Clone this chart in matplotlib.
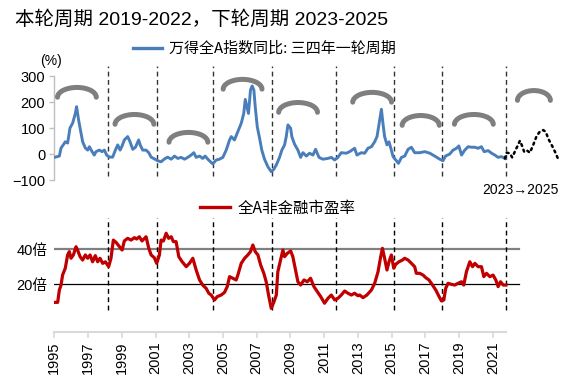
import matplotlib
matplotlib.use("Agg")
import matplotlib.pyplot as plt
from matplotlib.patches import Arc
from matplotlib.lines import Line2D
import numpy as np

plt.rcParams['font.family'] = ['Liberation Sans', 'Noto Sans CJK SC', 'DejaVu Sans']

# ---------------- data ----------------
yoy_years = [1995.06, 1995.30, 1995.40, 1995.53, 1995.65, 1995.79, 1995.93, 1996.09, 1996.25, 1996.32,
             1996.44, 1996.58, 1996.68, 1996.84, 1996.98, 1997.08, 1997.24, 1997.37, 1997.47, 1997.67,
             1997.83, 1997.97, 1998.10, 1998.26, 1998.46, 1998.62, 1998.76, 1998.90, 1999.02, 1999.15,
             1999.35, 1999.49, 1999.65, 1999.81, 2000.00, 2000.09, 2000.24, 2000.44, 2000.60, 2000.74,
             2000.93, 2001.13, 2001.33, 2001.53, 2001.72, 2001.93, 2002.12, 2002.32, 2002.52, 2002.72,
             2002.91, 2003.11, 2003.27, 2003.41, 2003.61, 2003.80, 2003.94, 2004.10, 2004.26, 2004.39,
             2004.60, 2004.79, 2004.99, 2005.19, 2005.39, 2005.49, 2005.68, 2005.88, 2006.08, 2006.23,
             2006.32, 2006.44, 2006.51, 2006.63, 2006.73, 2006.83, 2006.91, 2007.03, 2007.17, 2007.30,
             2007.46, 2007.66, 2007.86, 2008.01, 2008.16, 2008.35, 2008.49, 2008.65, 2008.75, 2008.85,
             2009.01, 2009.08, 2009.24, 2009.44, 2009.60, 2009.74, 2009.94, 2010.13, 2010.33, 2010.49,
             2010.69, 2010.92, 2011.22, 2011.42, 2011.62, 2011.81, 2012.01, 2012.31, 2012.51, 2012.80,
             2012.94, 2013.20, 2013.40, 2013.59, 2013.80, 2013.99, 2014.13, 2014.29, 2014.39, 2014.48,
             2014.58, 2014.72, 2014.84, 2014.98, 2015.08, 2015.24, 2015.40, 2015.58, 2015.77, 2015.97,
             2016.17, 2016.36, 2016.66, 2016.96, 2017.26, 2017.55, 2017.85, 2018.04, 2018.19, 2018.44,
             2018.64, 2018.84, 2018.98, 2019.14, 2019.33, 2019.53, 2019.73, 2019.93, 2020.12, 2020.32,
             2020.48, 2020.72, 2020.92, 2021.11, 2021.31, 2021.51, 2021.71]
yoy_values = [-12, -8, 23, 35, 47, 42, 100, 119, 157, 182,
              131, 81, 47, 23, 15, 28, 9, -4, 9, 15,
              9, 15, -4, -12, -12, 15, 35, 15, 31, 54,
              67, 47, 18, 26, 54, 35, 15, 15, 5, -12,
              -19, -26, -30, -19, -12, -20, -8, -17, -13, -20,
              -13, -4, 5, -13, -8, -17, -8, -20, -30, -38,
              -23, -20, -13, 15, 54, 67, 54, 86, 118, 156,
              210, 176, 156, 246, 262, 246, 182, 105, 60, 15,
              -20, -49, -68, -59, -42, -13, 15, 35, 67, 112,
              99, 67, 38, 15, -13, 5, -8, 3, -4, 18,
              -13, -20, -17, -13, -23, -13, 5, 3, 9, 22,
              -4, 5, 3, 22, 28, 47, 67, 131, 172, 118,
              67, 35, 47, 15, -10, -23, -36, -13, -8, 18,
              26, 5, 5, 9, 3, -8, -20, -26, -8, 0,
              15, 22, 31, -4, 15, 28, 26, 26, 22, 28,
              9, 13, 3, -4, -13, -10, -17]

proj_years = [2021.71, 2021.81, 2022.00, 2022.14, 2022.30, 2022.46, 2022.60, 2022.73, 2022.85, 2022.99,
              2023.19, 2023.39, 2023.59, 2023.78, 2023.98, 2024.12, 2024.32, 2024.51, 2024.72, 2024.87]
proj_values = [-17, 5, 3, -13, 9, 31, 51, 31, 9, 15,
               5, 35, 69, 86, 92, 86, 54, 31, 3, -20]

pe_years = [1995.00, 1995.20, 1995.30, 1995.40, 1995.49, 1995.65, 1995.79, 1995.89, 1995.99, 1996.13,
            1996.29, 1996.38, 1996.53, 1996.68, 1996.84, 1996.98, 1997.12, 1997.27, 1997.43, 1997.57,
            1997.71, 1997.87, 1998.03, 1998.22, 1998.36, 1998.50, 1998.66, 1998.86, 1999.02, 1999.15,
            1999.35, 1999.55, 1999.75, 1999.88, 2000.04, 2000.20, 2000.44, 2000.60, 2000.74, 2000.93,
            2001.07, 2001.23, 2001.33, 2001.47, 2001.63, 2001.78, 2001.93, 2002.06, 2002.22, 2002.38,
            2002.58, 2002.82, 2003.01, 2003.21, 2003.41, 2003.61, 2003.80, 2004.00, 2004.16, 2004.30,
            2004.50, 2004.66, 2004.89, 2005.09, 2005.25, 2005.39, 2005.58, 2005.78, 2005.88, 2006.08,
            2006.28, 2006.47, 2006.63, 2006.77, 2006.91, 2007.07, 2007.23, 2007.42, 2007.56, 2007.70,
            2007.86, 2008.01, 2008.16, 2008.25, 2008.41, 2008.55, 2008.65, 2008.81, 2009.01, 2009.14,
            2009.28, 2009.44, 2009.60, 2009.80, 2010.00, 2010.19, 2010.39, 2010.59, 2010.79, 2011.02,
            2011.22, 2011.42, 2011.62, 2011.81, 2012.01, 2012.21, 2012.41, 2012.61, 2012.80, 2013.00,
            2013.10, 2013.30, 2013.53, 2013.80, 2013.99, 2014.19, 2014.33, 2014.45, 2014.58, 2014.72,
            2014.84, 2014.98, 2015.12, 2015.24, 2015.43, 2015.64, 2015.77, 2015.97, 2016.17, 2016.36,
            2016.46, 2016.66, 2016.86, 2017.02, 2017.21, 2017.42, 2017.61, 2017.81, 2017.95, 2018.09,
            2018.20, 2018.34, 2018.54, 2018.74, 2018.93, 2019.14, 2019.27, 2019.43, 2019.63, 2019.79,
            2019.93, 2020.12, 2020.32, 2020.46, 2020.62, 2020.82, 2021.01, 2021.17, 2021.31, 2021.45,
            2021.61, 2021.77]
pe_values = [9.5, 9.5, 16.6, 19.4, 25.1, 29, 36.6, 38.5, 34.7, 36.6,
             41.3, 39.4, 35.6, 33.7, 36.6, 34.7, 36.6, 32.7, 36.2, 32.7,
             34.7, 31.8, 32.7, 29.9, 34.7, 45.1, 43.8, 41.3, 39.4, 44.6,
             46.1, 45.1, 46.5, 45.7, 47, 44.6, 47, 40.4, 36.6, 35,
             31.8, 36.6, 45.1, 44.6, 49, 46.1, 47, 44.2, 44.2, 35.6,
             32.7, 29.9, 31.8, 34.7, 28, 22.3, 19.4, 17.5, 14.7, 13.7,
             10.9, 12.8, 13.7, 15.2, 18.5, 24.2, 23.3, 22.3, 25.1, 31.8,
             34.7, 36.6, 38.5, 42.3, 38.5, 36.6, 30.9, 26.1, 21.3, 13.7,
             6.1, 9.5, 13.7, 27, 33.7, 39.4, 35.6, 37.5, 38.9, 35.6,
             29, 21.3, 19.4, 22.3, 21.3, 23.3, 18.5, 15.6, 12.8, 9,
             11.8, 13.7, 10.9, 11.8, 13.7, 16, 14.7, 13.7, 14.7, 13.3,
             13.7, 12.2, 13.7, 16.6, 20.4, 27, 34.7, 40.4, 34.7, 28,
             32.7, 36.6, 29, 31.3, 32.7, 33.7, 34.7, 33.7, 31.8, 29.9,
             26.1, 26.1, 25.1, 23.6, 22.3, 19.4, 16.6, 12.8, 10.3, 10.9,
             17.5, 20.4, 19.8, 19.4, 20.4, 21.3, 19.4, 27, 32.7, 29.9,
             31.8, 29.9, 29.9, 24.2, 26.1, 24.2, 25.1, 22.3, 18.5, 21.3,
             19.4, 19.4]

cycle_breaks = [1998.2, 2001.1, 2004.4, 2007.9, 2011.7, 2015.15, 2018.0, 2021.75]
# arc annotations: (centre year, top level in %)
arc_centers = [1996.34, 1999.75, 2002.95, 2006.16, 2009.45, 2013.84, 2016.72, 2019.87, 2023.43]
arc_tops = [256, 152, 83, 287, 198, 237, 148, 152, 244]
arc_widths = [2.3, 2.3, 2.3, 2.3, 2.3, 2.3, 2.2, 2.3, 1.95]

top_ticks = [-100, 0, 100, 200, 300]
pe_ticks = [20, 40]
pe_ticklabels = ['20倍', '40倍']
year_ticks = list(range(1995, 2022, 2))

# ---------------- figure ----------------
W, H = 566, 376
fig = plt.figure(figsize=(W / 100, H / 100), dpi=100)

x0_px, ppy = 54.3, 16.87
xlim = (1995, 2025.3)
left = x0_px / W
width = (xlim[1] - xlim[0]) * ppy / W

# top axes: 0 at py 154, 0.26 px per unit
t_lo, t_hi = -130, 345
t_top_px = 154 - t_hi * 0.26
t_bot_px = 154 - t_lo * 0.26
ax1 = fig.add_axes([left, 1 - t_bot_px / H, width, (t_bot_px - t_top_px) / H])
ax1.set_xlim(*xlim)
ax1.set_ylim(t_lo, t_hi)

# bottom axes: 0 at py 319, 1.75 px per unit
b_lo, b_hi = -7.4, 62
b_top_px = 319 - b_hi * 1.75
b_bot_px = 319 - b_lo * 1.75
ax2 = fig.add_axes([left, 1 - b_bot_px / H, width, (b_bot_px - b_top_px) / H])
ax2.set_xlim(*xlim)
ax2.set_ylim(b_lo, b_hi)

blue = '#4A7EBB'
red = '#C00000'
grey_arc = '#7F7F7F'

# --- top panel
ax1.plot(yoy_years, yoy_values, color=blue, lw=2.1, solid_joinstyle='round', zorder=3)
ax1.plot(proj_years, proj_values, color='black', lw=1.8, linestyle=(0, (0.8, 1.6)),
         dash_capstyle='round', zorder=3)
ax1.vlines(cycle_breaks, -85, 340, colors='#333333', linestyles=(0, (3.5, 2.5)), lw=1.0, zorder=2)
arc_h = 76
for cx, top, w in zip(arc_centers, arc_tops, arc_widths):
    a = Arc((cx, top - arc_h / 2), w, arc_h, theta1=18, theta2=162, color=grey_arc, lw=3.6,
            capstyle='round', zorder=4)
    ax1.add_patch(a)

for s in ['top', 'right', 'bottom']:
    ax1.spines[s].set_visible(False)
ax1.spines['left'].set_color('#BFBFBF')
ax1.spines['left'].set_linewidth(1.0)
ax1.spines['left'].set_bounds(-100, 300)
ax1.set_yticks(top_ticks)
ax1.tick_params(axis='y', length=3.5, width=1.0, color='#BFBFBF', pad=3, labelsize=10.5)
ax1.set_xticks([])

# --- bottom panel
ax2.axhline(40, color='#808080', lw=1.6, xmax=(2022.55 - xlim[0]) / (xlim[1] - xlim[0]), zorder=1)
ax2.axhline(20, color='black', lw=0.9, xmax=(2022.55 - xlim[0]) / (xlim[1] - xlim[0]), zorder=1)
ax2.plot(pe_years, pe_values, color=red, lw=2.3, solid_joinstyle='round', zorder=3)
ax2.vlines(cycle_breaks, 5, 58, colors='black', linestyles=(0, (3.5, 2.5)), lw=1.0, zorder=2)

for s in ['top', 'right', 'left']:
    ax2.spines[s].set_visible(False)
ax2.spines['bottom'].set_color('#D9D9D9')
ax2.spines['bottom'].set_linewidth(1.5)
ax2.spines['bottom'].set_bounds(1995, 2021.8)
ax2.set_yticks(pe_ticks)
ax2.set_yticklabels(pe_ticklabels)
ax2.tick_params(axis='y', length=0, pad=5, labelsize=10.5)
ax2.set_xticks(year_ticks)
ax2.set_xticklabels([str(y) for y in year_ticks], rotation=90)
ax2.tick_params(axis='x', length=4, width=1.2, color='#D9D9D9', pad=3, labelsize=10.5)

# --- texts
fig.text(15 / W, 1 - 20 / H, '本轮周期 2019-2022，下轮周期 2023-2025', fontsize=14,
         ha='left', va='center')
fig.text(51 / W, 1 - 61 / H, '(%)', fontsize=10, ha='center', va='center')
fig.text(520 / W, 1 - 190 / H, '2023→2025', fontsize=10, ha='center', va='center',
         family=['Liberation Sans', 'DejaVu Sans'])

h1 = Line2D([], [], color=blue, lw=2.4)
fig.legend([h1], ['万得全A指数同比: 三四年一轮周期'], loc='center left',
           bbox_to_anchor=(133 / W, 1 - 49 / H), frameon=False,
           handlelength=1.9, handletextpad=0.5, borderpad=0, borderaxespad=0,
           prop={'family': ['Noto Sans CJK SC'], 'size': 10.8})
h2 = Line2D([], [], color=red, lw=2.4)
fig.legend([h2], ['全A非金融市盈率'], loc='center left',
           bbox_to_anchor=(200 / W, 1 - 208 / H), frameon=False,
           handlelength=1.9, handletextpad=0.5, borderpad=0, borderaxespad=0,
           prop={'family': ['Noto Sans CJK SC'], 'size': 11.2})

fig.savefig('out.png', dpi=100, facecolor='white')
